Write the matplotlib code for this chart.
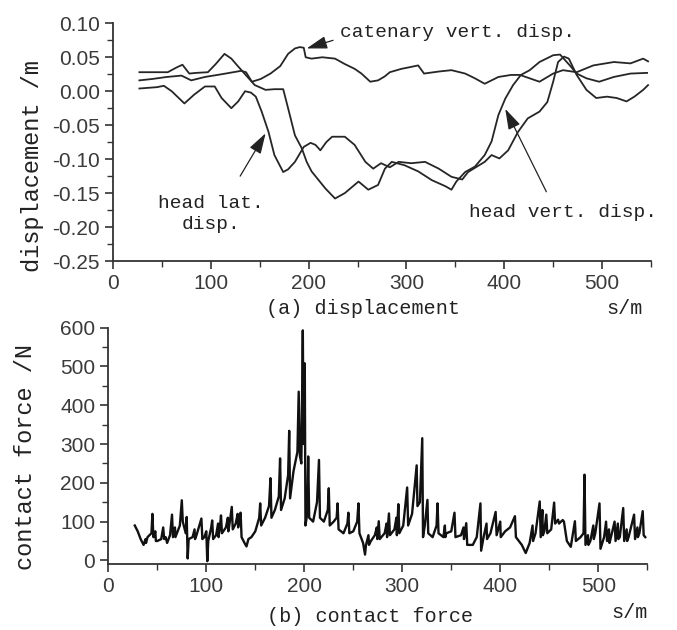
import matplotlib
matplotlib.use("Agg")
import matplotlib.pyplot as plt
from matplotlib.ticker import MultipleLocator, FormatStrFormatter

plt.rcParams['axes.unicode_minus'] = False

# ---------------- data: (a) displacement ----------------
head_vert_x = [27, 40, 56, 65, 71, 78, 85, 97, 105, 114, 121, 127, 132, 135, 145, 156, 165, 174, 179, 186,
               193, 198, 203, 217, 227, 237, 251, 261, 271, 278, 285, 298, 312, 326, 340, 346, 351, 360, 370, 380,
               387, 394, 401, 409, 417, 426, 436, 450, 457, 467, 474, 484, 497, 512, 529, 546]
head_vert_y = [0.028, 0.028, 0.028, 0.035, 0.039, 0.026, 0.027, 0.028, 0.040, 0.055,
               0.048, 0.038, 0.030, 0.025, 0.009, 0.002, 0.003, 0.003, -0.025, -0.065,
               -0.084, -0.104, -0.118, -0.143, -0.158, -0.150, -0.133, -0.145, -0.138, -0.114,
               -0.104, -0.109, -0.118, -0.131, -0.140, -0.145, -0.133, -0.119, -0.111, -0.094,
               -0.074, -0.035, -0.011, 0.009, 0.024, 0.031, 0.043, 0.053, 0.054, 0.038,
               0.026, 0.019, 0.014, 0.021, 0.026, 0.027]

catenary_x = [27, 40, 55, 70, 80, 94, 111, 131, 136, 142, 151, 161, 171, 179, 186, 191, 195, 197, 203, 214,
              227, 237, 247, 254, 263, 271, 278, 283, 295, 302, 312, 318, 333, 346, 360, 370, 380, 394, 407, 416,
              426, 436, 450, 460, 474, 491, 512, 529, 542, 547]
catenary_y = [0.016, 0.018, 0.021, 0.023, 0.016, 0.021, 0.025, 0.030, 0.028, 0.014,
              0.018, 0.026, 0.037, 0.055, 0.063, 0.065, 0.064, 0.050, 0.048, 0.050,
              0.048, 0.040, 0.033, 0.026, 0.014, 0.016, 0.022, 0.028, 0.033, 0.035,
              0.038, 0.026, 0.029, 0.031, 0.026, 0.019, 0.011, 0.021, 0.024, 0.024,
              0.019, 0.014, 0.026, 0.031, 0.028, 0.038, 0.043, 0.041, 0.048, 0.044]

head_lat_x = [27, 45, 52, 60, 73, 83, 94, 104, 111, 121, 128, 135, 141, 146, 152, 159, 165, 174, 179, 186,
              195, 202, 207, 212, 218, 224, 237, 247, 258, 266, 274, 283, 292, 305, 319, 333, 346, 357, 363, 380,
              387, 395, 404, 414, 424, 436, 444, 450, 455, 461, 466, 474, 484, 494, 505, 515, 525, 533, 542, 547]
head_lat_y = [0.004, 0.006, 0.008, 0.000, -0.018, -0.005, 0.007, 0.007, -0.010, -0.025,
              -0.015, 0.000, -0.002, -0.008, -0.030, -0.060, -0.094, -0.119, -0.115, -0.104,
              -0.082, -0.076, -0.079, -0.087, -0.075, -0.067, -0.067, -0.079, -0.104, -0.114,
              -0.106, -0.112, -0.104, -0.106, -0.104, -0.114, -0.126, -0.130, -0.119, -0.104,
              -0.094, -0.099, -0.087, -0.060, -0.040, -0.030, -0.016, 0.014, 0.043, 0.051,
              0.048, 0.024, 0.002, -0.010, -0.008, -0.010, -0.015, -0.008, 0.002, 0.009]

# ---------------- data: (b) contact force ----------------
force_x = [27, 30, 33, 36, 38, 38.5, 40, 44, 45, 46,
           48, 48.5, 50, 54, 56, 57, 58.5, 60, 63, 65,
           66, 68, 68.5, 70, 73, 75, 76, 79, 80, 81,
           82, 86, 88, 88.5, 90, 95, 96, 98, 100, 101,
           102, 105, 106, 107, 110, 112, 112.5, 114, 115, 116,
           120, 122, 122.5, 124, 126, 127, 130, 132, 132.5, 134,
           135, 136, 139, 141, 143, 146, 150, 154, 155, 156,
           160, 164, 165.5, 166.5, 170, 174, 175.3, 176.3, 180, 183.5,
           184.6, 185.5, 189, 193, 194.3, 195.5, 197, 198.5, 199.3, 200.5,
           201.2, 203, 204, 205, 209, 213, 215, 216, 220, 224,
           225, 226, 230, 233, 234, 235, 240, 244, 245, 246,
           250, 254, 255.3, 256.3, 260, 262, 263, 265.5, 266, 268,
           272, 274, 274.5, 276, 277, 282, 284, 284.5, 286.4, 287.4,
           292, 294, 294.5, 296, 297, 301, 305, 306, 310, 314.7,
           315.5, 318, 320.4, 321.2, 323, 325.7, 326.5, 331, 335, 336,
           337, 342, 343.5, 344, 345, 350, 353.3, 354.3, 360, 362.5,
           363, 365.3, 366.3, 372, 376, 379.8, 380.5, 383, 386, 386.5,
           390, 395.3, 396.3, 400, 400.5, 405, 410, 415, 416, 422,
           426, 430, 433, 433.5, 436, 440.3, 441.3, 443, 443.5, 445,
           447, 448, 452, 455, 456, 459, 460, 462, 463.8, 465,
           468, 472, 476.2, 477.2, 482, 485, 486, 487, 489.5, 490,
           492, 495, 495.5, 497, 501.3, 502.3, 506, 508, 509, 511,
           511.5, 513, 516.7, 517.7, 520, 520.5, 522, 525.5, 526.5, 529,
           529.5, 531, 536.6, 537.6, 540, 540.5, 542, 545.4, 546.4, 548]
force_y = [90, 75, 55, 40, 55, 45, 60, 70, 120, 60,
           75, 50, 50, 55, 85, 55, 60, 45, 65, 118,
           60, 85, 60, 70, 90, 155, 100, 70, 112, 5,
           55, 60, 80, 55, 65, 108, 55, 60, 75, -2,
           50, 85, 103, 55, 65, 95, 60, 90, 116, 70,
           85, 110, 75, 100, 138, 80, 95, 120, 85, 110,
           123, 60, 45, 36, 55, 60, 75, 110, 147, 90,
           110, 140, 212, 110, 130, 165, 263, 130, 160, 220,
           334, 160, 230, 280, 435, 270, 250, 593, 300, 508,
           90, 120, 268, 110, 100, 150, 259, 110, 100, 130,
           186, 90, 100, 110, 147, 80, 70, 95, 123, 70,
           75, 100, 147, 70, 45, 15, 40, 65, 40, 50,
           65, 85, 55, 101, 55, 70, 95, 60, 121, 65,
           80, 110, 65, 145, 70, 90, 188, 90, 120, 245,
           140, 150, 315, 60, 90, 156, 70, 60, 90, 147,
           70, 60, 90, 60, 70, 75, 123, 60, 65, 85,
           55, 96, 40, 40, 60, 147, 25, 60, 95, 55,
           70, 125, 65, 100, 60, 75, 85, 114, 60, 40,
           19, 45, 90, 50, 70, 152, 60, 130, 65, 75,
           118, 70, 80, 149, 95, 105, 95, 100, 104, 100,
           50, 35, 101, 50, 60, 70, 221, 40, 65, 40,
           50, 90, 55, 70, 147, 30, 60, 100, 50, 80,
           45, 60, 100, 50, 95, 55, 60, 135, 50, 80,
           50, 60, 118, 55, 85, 60, 70, 127, 65, 60]

disp_yticks = [-0.25, -0.20, -0.15, -0.10, -0.05, 0.00, 0.05, 0.10]
force_yticks = [0, 100, 200, 300, 400, 500, 600]
x_ticks = [0, 100, 200, 300, 400, 500]

# ---------------- styling ----------------
LINE = '#262626'
TXT = '#222222'
TICK = '#3a3a3a'
MONO = 'Liberation Mono'
SANS = 'Liberation Sans'

fig = plt.figure(figsize=(6.77, 6.30), dpi=100)
ax1 = fig.add_axes([0.1669, 0.5857, 0.7947, 0.3773])
ax2 = fig.add_axes([0.1600, 0.1043, 0.7960, 0.3756])


def style(ax):
    for s in ('top', 'right'):
        ax.spines[s].set_visible(False)
    for s in ('left', 'bottom'):
        ax.spines[s].set_color('#333333')
        ax.spines[s].set_linewidth(1.3)
    ax.tick_params(which='major', direction='out', length=6, width=1.2, colors='#333333',
                   labelcolor=TICK, labelsize=15)
    ax.tick_params(which='minor', direction='out', length=4, width=1.0, colors='#333333')
    for lab in ax.get_xticklabels() + ax.get_yticklabels():
        lab.set_fontfamily(SANS)
    ax.set_xlim(0, 550)
    ax.set_xticks(x_ticks)
    ax.xaxis.set_minor_locator(MultipleLocator(50))


# (a) displacement
ax1.plot(catenary_x, catenary_y, color=LINE, lw=1.3)
ax1.plot(head_vert_x, head_vert_y, color=LINE, lw=1.3)
ax1.plot(head_lat_x, head_lat_y, color=LINE, lw=1.3)
ax1.set_ylim(-0.25, 0.10)
ax1.set_yticks(disp_yticks)
ax1.yaxis.set_minor_locator(MultipleLocator(0.025))
ax1.yaxis.set_major_formatter(FormatStrFormatter('%.2f'))
style(ax1)
ax1.set_ylabel('displacement /m', fontfamily=MONO, fontsize=17, color=TXT)
ax1.yaxis.set_label_coords(-0.128, 0.40)

arrow = dict(arrowstyle='-|>,head_length=0.9,head_width=0.28', color=TXT, lw=0.9,
             shrinkA=0, shrinkB=0, mutation_scale=14)
ax1.annotate('', xy=(198, 0.063), xytext=(225, 0.075), arrowprops=arrow)
ax1.text(232, 0.087, 'catenary vert. disp.', fontfamily=MONO, fontsize=14, color=TXT,
         ha='left', va='center', clip_on=False)
ax1.annotate('', xy=(156, -0.062), xytext=(130, -0.125), arrowprops=arrow)
ax1.text(100, -0.181, 'head lat.\ndisp.', fontfamily=MONO, fontsize=14, color=TXT,
         ha='center', va='center', linespacing=1.35, clip_on=False)
ax1.annotate('', xy=(401, -0.026), xytext=(443, -0.148), arrowprops=arrow)
ax1.text(364, -0.179, 'head vert. disp.', fontfamily=MONO, fontsize=14, color=TXT,
         ha='left', va='center', clip_on=False)

fig.text(363 / 677, 1 - 308 / 630, '(a) displacement', fontfamily=MONO, fontsize=14.5,
         color=TXT, ha='center', va='center')
fig.text(624 / 677, 1 - 308 / 630, 's/m', fontfamily=MONO, fontsize=14.5,
         color=TXT, ha='center', va='center')

# (b) contact force
ax2.plot(force_x, force_y, color='#111111', lw=1.7)
ax2.set_ylim(-10, 600)
ax2.set_yticks(force_yticks)
ax2.yaxis.set_minor_locator(MultipleLocator(50))
style(ax2)
ax2.set_ylabel('contact force /N', fontfamily=MONO, fontsize=17, color=TXT)
ax2.yaxis.set_label_coords(-0.132, 0.455)

fig.text(370 / 677, 1 - 616 / 630, '(b) contact force', fontfamily=MONO, fontsize=14.5,
         color=TXT, ha='center', va='center')
fig.text(629 / 677, 1 - 613 / 630, 's/m', fontfamily=MONO, fontsize=14.5,
         color=TXT, ha='center', va='center')

fig.savefig('out.png', dpi=100)
